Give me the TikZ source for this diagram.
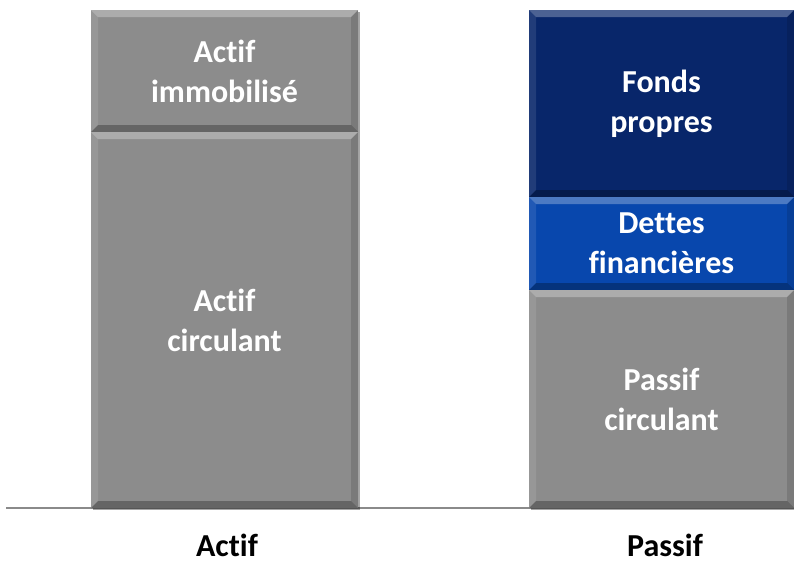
\documentclass[tikz,border=0pt]{standalone}
\usepackage{fontspec}
\setmainfont[Ligatures=NoCommon,Contextuals=NoAlternate,RawFeature={-dlig}]{Carlito}
\usetikzlibrary{shadows}
\definecolor{bargray}{HTML}{8C8C8C}
\definecolor{navy}{HTML}{08266A}
\definecolor{debtblue}{HTML}{0847AD}
\definecolor{axisgray}{HTML}{8A8A8A}
\tikzset{
  bevelbox/.style={
    rectangle, inner sep=0pt, fill=#1, text=white,
    font=\fontsize{32}{40}\selectfont\bfseries, align=center,
    drop shadow={shadow xshift=1.5pt, shadow yshift=-2pt, opacity=.35, fill=black},
    path picture={
      \def\bv{7pt}
      % upper bevel: light
      \fill[white,opacity=.28] (path picture bounding box.north west) -- (path picture bounding box.north east)
        -- ([xshift=-\bv,yshift=-\bv]path picture bounding box.north east)
        -- ([xshift=\bv,yshift=-\bv]path picture bounding box.north west) -- cycle;
      % left bevel: slightly light
      \fill[white,opacity=.10] (path picture bounding box.north west) -- ([xshift=\bv,yshift=-\bv]path picture bounding box.north west)
        -- ([xshift=\bv,yshift=\bv]path picture bounding box.south west)
        -- (path picture bounding box.south west) -- cycle;
      % right bevel: slightly dark
      \fill[black,opacity=.12] (path picture bounding box.north east) -- ([xshift=-\bv,yshift=-\bv]path picture bounding box.north east)
        -- ([xshift=-\bv,yshift=\bv]path picture bounding box.south east)
        -- (path picture bounding box.south east) -- cycle;
      % lower bevel: dark
      \fill[black,opacity=.28] (path picture bounding box.south west) -- (path picture bounding box.south east)
        -- ([xshift=-\bv,yshift=\bv]path picture bounding box.south east)
        -- ([xshift=\bv,yshift=\bv]path picture bounding box.south west) -- cycle;
    }
  },
  caption/.style={font=\fontsize{32}{38}\selectfont\bfseries, text=black,
    inner sep=0pt, anchor=base}
}
\begin{document}
\begin{tikzpicture}[x=1pt,y=-1pt]
  \useasboundingbox[fill=white] (0,0) rectangle (794,563);
  % baseline axis
  \coordinate (axL) at (6,508);
  \coordinate (axR) at (794,508);
  \draw[axisgray, line width=1.6pt] (axL) -- (axR);
  % assets column
  \node[bevelbox=bargray, minimum width=267pt, minimum height=122pt] (immo) at (224.5,71) {Actif\\immobilisé};
  \node[bevelbox=bargray, minimum width=267pt, minimum height=376pt] (circ) at (224.5,320) {Actif\\circulant};
  % liabilities column
  \node[bevelbox=navy, minimum width=265pt, minimum height=187pt] (fonds) at (661.5,103.5) {Fonds\\propres};
  \node[bevelbox=debtblue, minimum width=265pt, minimum height=93pt] (dettes) at (661.5,243.5) {Dettes\\financières};
  \node[bevelbox=bargray, minimum width=265pt, minimum height=218pt] (passif) at (661.5,399) {Passif\\circulant};
  % column captions
  \node[caption] (lblA) at (227,556) {Actif};
  \node[caption] (lblP) at (665,556) {Passif};
\end{tikzpicture}
\end{document}
